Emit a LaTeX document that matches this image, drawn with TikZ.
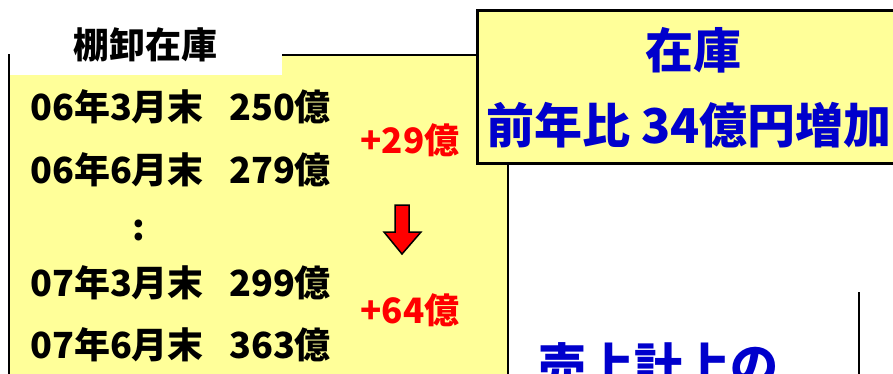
\documentclass[tikz,border=0pt]{standalone}
\usepackage{fontspec}
\setmainfont{Noto Sans CJK JP}
\usepackage{xcolor}
\definecolor{memo-yellow}{HTML}{FFFF99}
\definecolor{memo-blue}{HTML}{0000CC}
\tikzset{
    panel-box/.style = {draw=black, fill=memo-yellow, line width=2pt},
    head-box/.style = {draw=black, fill=memo-yellow, line width=3pt},
    row-text/.style = {anchor=west, inner sep=0pt, font=\fontsize{36}{36}\selectfont\bfseries},
    diff-text/.style = {inner sep=0pt, text=red, font=\fontsize{35}{35}\selectfont\bfseries},
    blue-text/.style = {inner sep=0pt, text=memo-blue, font=\fontsize{48}{48}\selectfont\bfseries},
}

\begin{document}
\begin{tikzpicture}[x=1pt, y=-1pt]
\useasboundingbox (0,0) rectangle (893,373);

% left panel with white tab
\draw[panel-box] (9,55) rectangle (508,400);
\fill[white] (10,0) rectangle (282,75);
\node[inner sep=0pt, font=\fontsize{36}{36}\selectfont\bfseries] (title) at (145,45) {棚卸在庫};

% rows
\node[row-text] (d1) at (30,107) {06年3月末};
\node[row-text] (v1) at (229,107) {250億};
\node[row-text] (d2) at (30,170) {06年6月末};
\node[row-text] (v2) at (229,170) {279億};
\node[inner sep=0pt, font=\fontsize{36}{36}\selectfont\bfseries] (dots) at (139,230) {:};
\node[row-text] (d3) at (30,283) {07年3月末};
\node[row-text] (v3) at (229,283) {299億};
\node[row-text] (d4) at (30,345) {07年6月末};
\node[row-text] (v4) at (229,345) {363億};

\node[diff-text] (up1) at (410,140) {+29億};
\node[diff-text] (up2) at (410,310) {+64億};
\draw[fill=red, line width=1.5pt, line join=miter]
    (395,205) -- (409,205) -- (409,232) -- (421,232) -- (402,254) -- (384,232) -- (395,232) -- cycle;

% right box
\draw[head-box] (477,10) rectangle (905,163);
\node[blue-text] (zaiko) at (693,50) {在庫};
\node[blue-text] (zoka) at (689,125) {前年比 34億円増加};

% lower right
\draw[line width=2pt] (859,292) -- (859,380);
\node[blue-text, anchor=west] (uriage) at (538,365) {売上計上の};
\end{tikzpicture}
\end{document}
